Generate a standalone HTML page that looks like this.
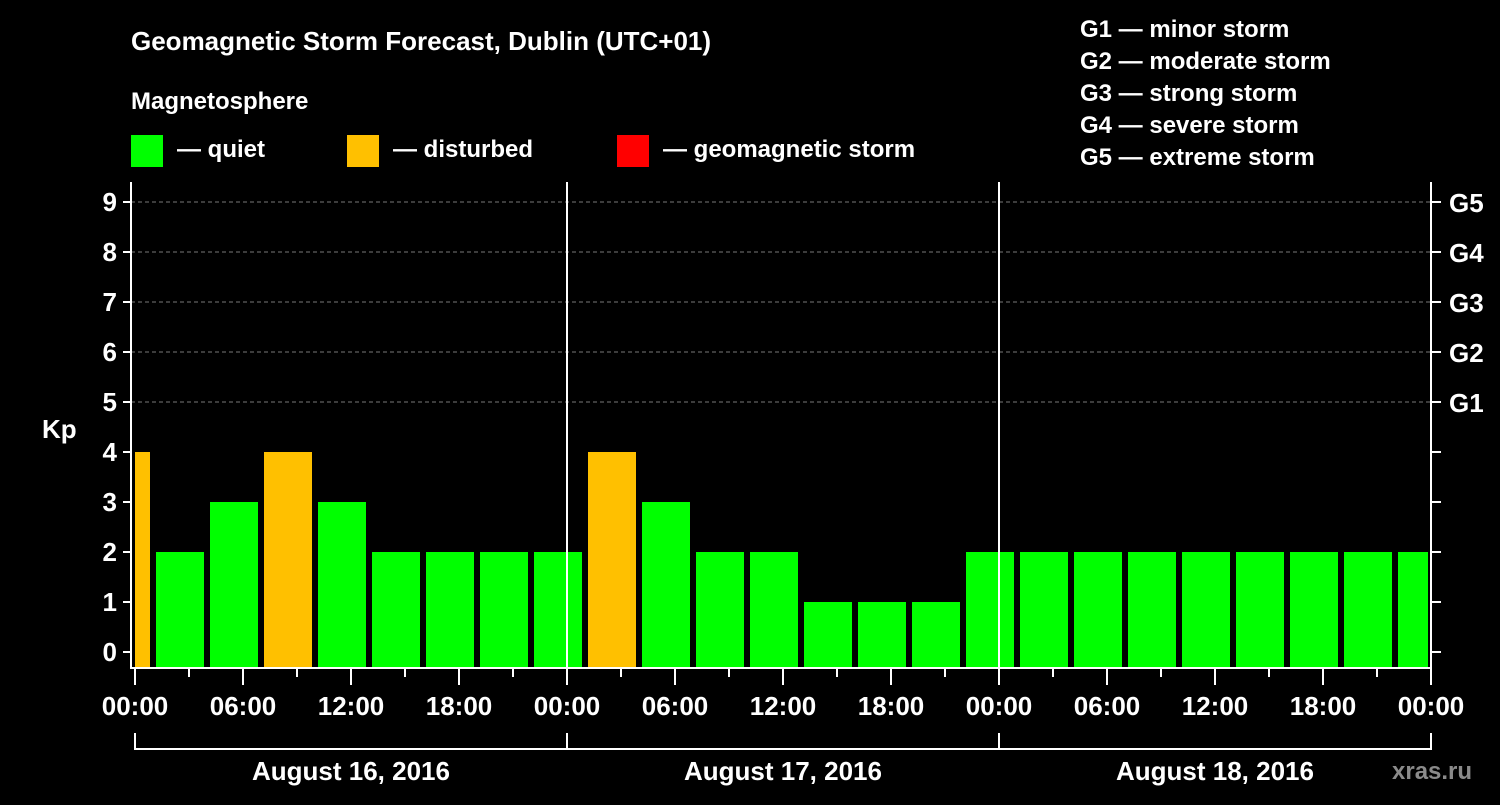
<!DOCTYPE html>
<html><head><meta charset="utf-8"><style>
body{margin:0;background:#000;}
svg text{font-family:"Liberation Sans",Arial,sans-serif;font-weight:bold;fill:#fff;}
</style></head><body>
<svg id="chart" width="1500" height="800" viewBox="0 0 1500 800" xmlns="http://www.w3.org/2000/svg">
<rect width="1500" height="800" fill="#000"/>
<text x="131" y="50" font-size="26">Geomagnetic Storm Forecast, Dublin (UTC+01)</text>
<text x="131" y="109" font-size="24">Magnetosphere</text>
<g font-size="24">
<rect x="131" y="135" width="32" height="32" fill="#00ff00"/>
<text x="177" y="157">— quiet</text>
<rect x="347" y="135" width="32" height="32" fill="#ffc000"/>
<text x="393" y="157">— disturbed</text>
<rect x="617" y="135" width="32" height="32" fill="#ff0000"/>
<text x="663" y="157">— geomagnetic storm</text>
</g>
<g font-size="24">
<text x="1080" y="37">G1 — minor storm</text>
<text x="1080" y="69">G2 — moderate storm</text>
<text x="1080" y="101">G3 — strong storm</text>
<text x="1080" y="133">G4 — severe storm</text>
<text x="1080" y="165">G5 — extreme storm</text>
</g>
<g id="plot"></g>
<text x="42" y="438" font-size="26">Kp</text>
<text x="1392" y="779" font-size="24" fill="#888" style="fill:#8a8a8a">xras.ru</text>
</svg>
<script>
const kpValues=[4,2,3,4,3,2,2,2,2,4,3,2,2,1,1,1,2,2,2,2,2,2,2,2,2];
const yTicks=[0,1,2,3,4,5,6,7,8,9];
const gLabels={5:"G1",6:"G2",7:"G3",8:"G4",9:"G5"};
const xTickLabels=["00:00","06:00","12:00","18:00","00:00","06:00","12:00","18:00","00:00","06:00","12:00","18:00","00:00"];
const dayLabels=["August 16, 2016","August 17, 2016","August 18, 2016"];
const firstSlotHour=-2;
const NS="http://www.w3.org/2000/svg";
const L=131,R=1431,T=182,B=668,X0=135,PXH=18;
const xs=h=>X0+h*PXH;
const ys=k=>652-k*50;
const g=document.getElementById('plot');
function mk(t,a,p){const e=document.createElementNS(NS,t);for(const k in a)e.setAttribute(k,a[k]);(p||g).appendChild(e);return e;}
// grid
yTicks.forEach(k=>{
 if(k>=5){const l=mk('line',{x1:L,x2:R,y1:ys(k),y2:ys(k),stroke:'#777','stroke-dasharray':'4,3','stroke-width':1});
 
 }
 const t1=mk('line',{x1:L-8,x2:L,y1:ys(k),y2:ys(k),stroke:'#fff','stroke-width':2});
 const t2=mk('line',{x1:R,x2:R+10,y1:ys(k),y2:ys(k),stroke:'#fff','stroke-width':2});
 const tx=mk('text',{x:L-14,y:ys(k)+9,'font-size':26,'text-anchor':'end'});tx.textContent=k;
 
 
 if(gLabels[k]){const gt=mk('text',{x:R+18,y:ys(k)+10,'font-size':26});gt.textContent=gLabels[k];
 
 }
});
// bars
kpValues.forEach((v,i)=>{
 let x1=xs(firstSlotHour+i*3)+3,x2=xs(firstSlotHour+(i+1)*3)-3;
 x1=Math.max(x1,X0);x2=Math.min(x2,R-3);
 const col=v>=5?'#ff0000':(v>=4?'#ffc000':'#00ff00');
 const r=mk('rect',{x:x1,y:ys(v),width:x2-x1,height:B-1-ys(v),fill:col});
 
 
});
// day separators
[1,2].forEach(d=>mk('line',{x1:xs(d*24),x2:xs(d*24),y1:T,y2:B,stroke:'#fff','stroke-width':2}));
// axes
mk('path',{d:`M${L} ${T}V${B}H${R}V${T}`,fill:'none',stroke:'#fff','stroke-width':2});
// x ticks
for(let h=0;h<=72;h+=3){const major=h%6===0;mk('line',{x1:xs(h),x2:xs(h),y1:B,y2:B+(major?17:9),stroke:'#fff','stroke-width':2});}
xTickLabels.forEach((s,i)=>{const t=mk('text',{x:xs(i*6),y:715,'font-size':26,'text-anchor':'middle'});t.textContent=s;
 
 });
// bracket
mk('path',{d:`M${xs(0)} 733V749H${xs(72)}V733`,fill:'none',stroke:'#fff','stroke-width':2});
[1,2].forEach(d=>mk('line',{x1:xs(d*24),x2:xs(d*24),y1:733,y2:749,stroke:'#fff','stroke-width':2}));
dayLabels.forEach((s,i)=>{const t=mk('text',{x:xs(i*24+12),y:780,'font-size':26,'text-anchor':'middle'});t.textContent=s;
 
 });
</script>
</body></html>
